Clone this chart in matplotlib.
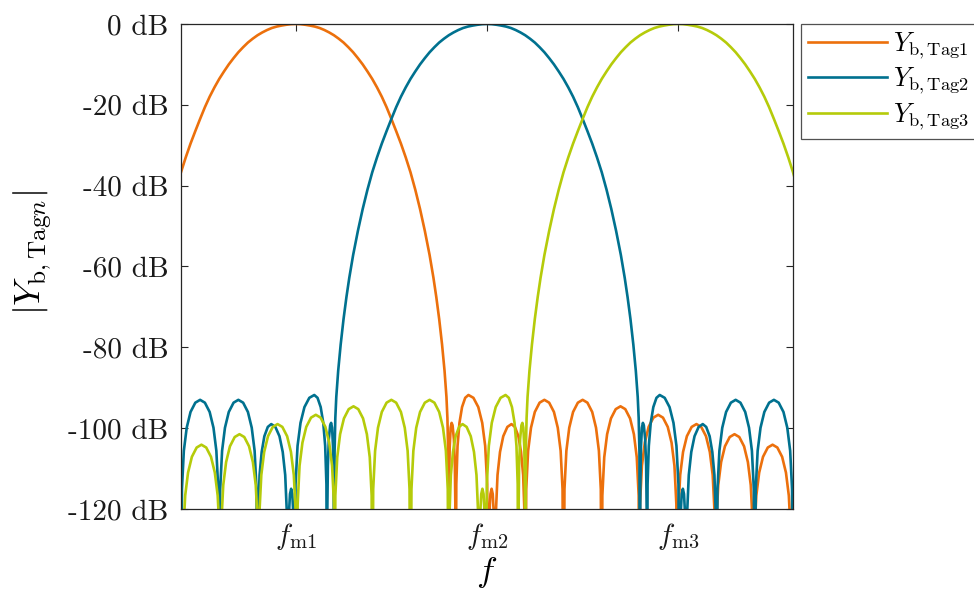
import matplotlib
matplotlib.use("Agg")
import matplotlib.pyplot as plt
import numpy as np

plt.rcParams['mathtext.fontset'] = 'cm'
plt.rcParams['font.family'] = 'cmr10'
plt.rcParams['axes.unicode_minus'] = False

# carrier positions of the three tags (x axis in units of the tag spacing)
tag_labels = [r'$Y_{\mathrm{b,Tag1}}$', r'$Y_{\mathrm{b,Tag2}}$', r'$Y_{\mathrm{b,Tag3}}$']
tag_centers = [1.0, 2.0, 3.0]
tag_colors = ['#EC700C', '#00718F', '#B5CB0A']

xtick_labels = [r'$f_{\mathrm{m1}}$', r'$f_{\mathrm{m2}}$', r'$f_{\mathrm{m3}}$']
ytick_values = [-120, -100, -80, -60, -40, -20, 0]

# one-sided magnitude of a single tag response around its carrier
# (offset from carrier, dB); nulls are put at -160 so they run below the axis
kernel_offset = [
    0.000, 0.025, 0.050, 0.075, 0.100, 0.125, 0.150, 0.175, 0.200, 0.225,
    0.250, 0.275, 0.300, 0.325, 0.350, 0.375, 0.400, 0.425, 0.450, 0.475,
    0.500, 0.525, 0.550, 0.575, 0.600, 0.625, 0.650, 0.675, 0.700, 0.720,
    0.735, 0.750, 0.765, 0.778, 0.788, 0.793, 0.797, 0.800,
    0.8015, 0.805, 0.810, 0.815, 0.820, 0.827, 0.832, 0.835, 0.836,
    0.8395, 0.846, 0.856, 0.8695, 0.886, 0.903, 0.929, 0.9545, 0.975, 0.9905, 1.001, 1.006,
    1.013, 1.018, 1.024, 1.030, 1.035, 1.042,
    1.0463, 1.055, 1.068, 1.085, 1.1065, 1.128, 1.146, 1.164, 1.178, 1.189, 1.196, 1.200,
    1.205, 1.215, 1.230, 1.250, 1.275, 1.300, 1.325, 1.350, 1.370, 1.385, 1.395, 1.400,
    1.405, 1.415, 1.430, 1.450, 1.475, 1.500, 1.525, 1.550, 1.570, 1.585, 1.595, 1.600,
    1.603, 1.613, 1.628, 1.648, 1.673, 1.698, 1.723, 1.748, 1.768, 1.783, 1.793, 1.797,
    1.800, 1.810, 1.825, 1.845, 1.870, 1.895, 1.920, 1.945, 1.965, 1.980, 1.990, 1.995,
    2.000, 2.010, 2.025, 2.045, 2.070, 2.095, 2.120, 2.145, 2.165, 2.180, 2.190, 2.195,
    2.199, 2.209, 2.224, 2.244, 2.269, 2.294, 2.319, 2.344, 2.364, 2.379, 2.389, 2.393,
    2.398, 2.408, 2.423, 2.443, 2.468, 2.493, 2.518, 2.543, 2.563, 2.578, 2.588, 2.592,
    2.620,
]
kernel_db = [
    0.0, -0.05, -0.2, -0.4, -0.65, -1.0, -1.5, -2.1, -2.8, -3.65,
    -4.6, -5.75, -7.0, -8.45, -10.0, -11.75, -13.6, -15.7, -18.0, -20.6,
    -23.5, -26.5, -29.6, -33.0, -36.7, -41.0, -45.8, -51.2, -57.2, -62.8,
    -67.6, -73.0, -79.3, -85.8, -92.3, -97.5, -106.0, -160,
    -114.8, -104.7, -99.9, -98.7, -99.3, -102.8, -109.3, -121.0, -160,
    -113.9, -104.4, -98.7, -94.8, -92.5, -91.8, -92.5, -94.8, -98.7, -104.4, -113.9, -160,
    -120.8, -116.3, -115.0, -116.3, -120.8, -160,
    -121.1, -111.6, -105.9, -102.0, -99.7, -99.0, -99.7, -102.0, -105.9, -111.6, -121.1, -160,
    -115.1, -105.6, -99.9, -96.0, -93.7, -93.0, -93.7, -96.0, -99.9, -105.6, -115.1, -160,
    -115.1, -105.6, -99.9, -96.0, -93.7, -93.0, -93.7, -96.0, -99.9, -105.6, -115.1, -160,
    -116.7, -107.2, -101.5, -97.6, -95.3, -94.6, -95.3, -97.6, -101.5, -107.2, -116.7, -160,
    -118.8, -109.3, -103.6, -99.7, -97.4, -96.7, -97.4, -99.7, -103.6, -109.3, -118.8, -160,
    -121.1, -111.6, -105.9, -102.0, -99.7, -99.0, -99.7, -102.0, -105.9, -111.6, -121.1, -160,
    -123.6, -114.1, -108.4, -104.5, -102.2, -101.5, -102.2, -104.5, -108.4, -114.1, -123.6, -160,
    -126.2, -116.7, -111.0, -107.1, -104.8, -104.1, -104.8, -107.1, -111.0, -116.7, -126.2, -160,
    -116.0,
]

off = np.array(kernel_offset)
db = np.array(kernel_db)
# response is symmetric about the carrier
resp_x = np.concatenate([-off[:0:-1], off])
resp_db = np.concatenate([db[:0:-1], db])

fig = plt.figure(figsize=(9.74, 5.99), dpi=100)
ax = fig.add_axes([0.1858, 0.1503, 0.6284, 0.8097])

for fc, col, lab in zip(tag_centers, tag_colors, tag_labels):
    ax.plot(fc + resp_x, resp_db, color=col, lw=1.9, label=lab,
            solid_joinstyle='round')

ax.set_xlim(0.4, 3.6)
ax.set_ylim(-120, 0)

ax.set_xticks(tag_centers)
ax.set_xticklabels(xtick_labels)
ax.set_yticks(ytick_values)
ax.set_yticklabels([f'{v} dB' for v in ytick_values])

edge = '#262626'
for sp in ax.spines.values():
    sp.set_color(edge)
    sp.set_linewidth(0.9)
ax.tick_params(direction='in', length=5, width=0.8, color=edge,
               top=True, right=True, labelsize=21, labelcolor='#1a1a1a', pad=9)

ax.set_xlabel(r'$f$', fontsize=25, labelpad=2)
ax.set_ylabel(r'$|Y_{\mathrm{b,Tag}n}|$', fontsize=26, labelpad=10)
ax.yaxis.label.set_y(0.53)

leg = ax.legend(loc='upper left', bbox_to_anchor=(0.8225, 0.960),
                bbox_transform=fig.transFigure, fontsize=19, frameon=True,
                fancybox=False, borderaxespad=0, borderpad=0.25,
                handlelength=3.0, handletextpad=0.25, labelspacing=0.2)
leg.get_frame().set_edgecolor(edge)
leg.get_frame().set_linewidth(0.9)

fig.savefig('out.png', dpi=100)
